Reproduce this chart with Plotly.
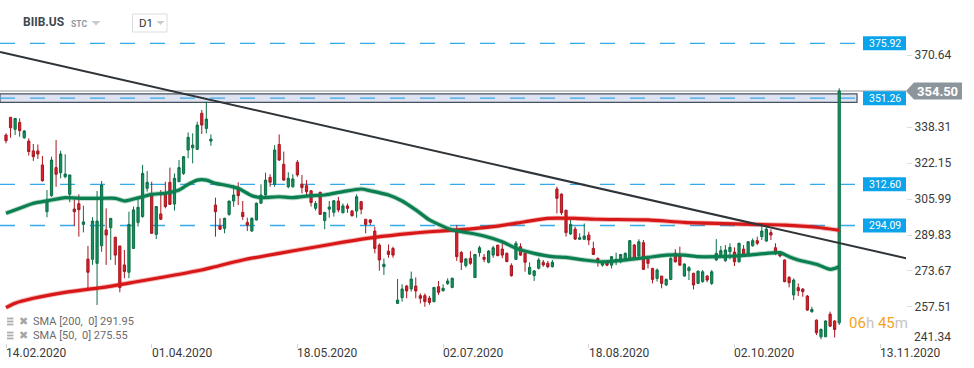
import plotly.graph_objects as go

# ---------------- data ----------------
opens = [334.7, 342.7, 337.3, 340.4, 333.5, 332.0, 327.6, 327.6, 321.3, 300.3,
         307.5, 320.1, 317.8, 316.0, 308.1, 301.5, 303.9, 294.6, 279.0, 278.9,
         277.1, 285.0, 292.1, 293.1, 288.8, 284.9, 276.4, 273.1, 283.8, 295.5,
         298.1, 310.8, 308.1, 290.1, 299.3, 308.8, 313.5, 303.7, 313.8, 317.5,
         328.0, 329.0, 328.3, 344.5, 337.7, 332.0, 303.3, 293.9, 292.8, 299.1,
         305.1, 310.5, 300.0, 295.5, 291.6, 296.6, 304.1, 307.8, 315.7, 312.6,
         330.5, 321.6, 311.5, 311.5, 322.5, 312.6, 312.0, 309.7, 301.8, 309.0,
         296.3, 301.4, 300.0, 305.1, 299.8, 302.9, 300.6, 300.6, 304.8, 296.9,
         296.6, 291.6, 285.3, 275.6, 282.6, 283.8, 259.1, 261.7, 266.9, 265.6,
         266.9, 262.6, 262.6, 261.5, 259.9, 266.6, 264.8, 268.0, 266.3, 292.1,
         282.0, 276.1, 279.4, 270.7, 281.9, 279.8, 277.6, 280.8, 285.3, 283.5,
         281.6, 276.1, 278.9, 284.6, 281.6, 272.3, 271.6, 274.9, 277.6, 277.1,
         275.6, 310.5, 308.2, 301.0, 290.3, 292.5, 287.9, 287.9, 289.8, 283.8,
         279.3, 276.3, 277.4, 276.3, 277.8, 277.8, 278.9, 279.3, 285.3, 280.4,
         286.4, 278.9, 274.8, 270.3, 271.4, 267.4, 269.9, 281.6, 280.4, 271.4,
         273.8, 272.6, 268.1, 268.9, 271.4, 268.1, 278.6, 280.1, 278.3, 282.3,
         282.2, 277.8, 283.5, 280.8, 285.0, 287.3, 289.1, 287.1, 290.9, 284.1,
         281.1, 278.6, 270.8, 262.9, 266.2, 265.6, 262.4, 255.4, 251.6, 244.1,
         244.1, 254.3, 251.2, 250.4]
highs = [335.5, 342.7, 342.2, 342.2, 337.0, 333.2, 330.7, 330.5, 325.3, 310.0,
         325.0, 332.5, 327.7, 326.1, 316.8, 305.8, 308.1, 303.0, 284.9, 297.8,
         309.6, 314.1, 301.8, 297.3, 289.1, 284.9, 283.1, 300.3, 302.6, 306.3,
         321.3, 318.6, 313.8, 302.8, 310.0, 313.8, 320.1, 317.5, 323.5, 325.3,
         335.9, 335.5, 340.7, 346.0, 349.7, 335.0, 306.6, 297.3, 297.6, 305.1,
         312.3, 313.5, 305.1, 297.6, 297.8, 304.4, 312.6, 317.8, 317.1, 330.2,
         335.0, 327.3, 318.0, 317.1, 323.5, 316.8, 314.5, 310.0, 305.1, 309.3,
         300.0, 305.1, 305.5, 307.0, 304.0, 304.0, 301.1, 308.1, 305.1, 296.9,
         297.0, 293.6, 286.1, 279.3, 285.6, 284.6, 270.1, 267.7, 267.4, 273.4,
         270.8, 263.6, 263.6, 262.5, 266.3, 269.2, 267.7, 270.4, 270.7, 294.3,
         282.6, 279.4, 282.6, 281.1, 285.0, 281.3, 283.1, 285.0, 285.3, 286.8,
         282.0, 277.1, 287.1, 286.1, 282.0, 277.6, 274.1, 279.6, 278.6, 278.2,
         278.6, 311.5, 308.5, 301.0, 296.5, 293.6, 290.6, 295.0, 291.3, 286.8,
         279.8, 278.3, 278.0, 280.4, 281.9, 281.3, 282.0, 287.6, 285.8, 287.9,
         287.6, 279.8, 275.1, 274.8, 271.4, 270.3, 280.1, 283.4, 284.6, 277.1,
         275.9, 272.9, 273.8, 274.1, 271.8, 274.1, 288.0, 284.9, 285.3, 286.1,
         284.3, 286.4, 285.3, 287.1, 288.3, 289.1, 293.6, 293.6, 292.4, 286.1,
         282.3, 278.9, 271.4, 270.3, 268.1, 265.9, 262.9, 257.6, 251.9, 247.9,
         251.6, 255.4, 251.6, 355.7]
lows = [331.0, 333.5, 334.7, 334.0, 333.0, 325.5, 323.1, 324.0, 313.8, 297.8,
        307.0, 311.5, 315.3, 315.3, 304.5, 293.9, 289.1, 291.0, 264.8, 276.4,
        258.4, 282.3, 276.4, 278.6, 276.4, 264.1, 270.4, 270.4, 283.8, 293.6,
        297.6, 309.3, 290.3, 288.0, 296.6, 301.8, 303.3, 300.8, 313.5, 316.8,
        324.3, 322.0, 328.0, 335.2, 335.5, 329.9, 289.1, 292.1, 290.6, 298.5,
        302.5, 303.3, 296.6, 291.6, 291.3, 296.3, 303.8, 307.5, 311.5, 311.5,
        323.1, 314.1, 310.8, 311.1, 316.0, 308.5, 307.8, 302.6, 300.8, 298.8,
        292.4, 297.6, 298.1, 300.0, 299.6, 299.8, 298.1, 297.6, 299.1, 290.6,
        294.3, 281.6, 273.8, 271.9, 279.6, 279.6, 258.8, 259.9, 261.4, 264.4,
        261.4, 259.1, 257.6, 258.5, 259.6, 262.9, 264.4, 267.4, 265.9, 278.2,
        274.1, 275.2, 276.4, 270.7, 280.1, 277.6, 277.1, 279.6, 280.4, 279.4,
        277.6, 271.1, 278.6, 280.4, 273.4, 271.9, 269.2, 274.4, 275.6, 274.9,
        275.2, 299.5, 298.8, 289.1, 289.8, 287.6, 287.6, 287.6, 285.3, 280.8,
        275.6, 275.6, 275.8, 274.8, 276.3, 277.1, 278.5, 278.9, 278.9, 279.8,
        274.1, 274.8, 268.1, 268.9, 265.9, 266.9, 269.6, 277.4, 275.9, 271.1,
        269.6, 265.4, 267.8, 268.4, 268.6, 267.4, 278.3, 279.8, 277.8, 278.9,
        275.9, 277.4, 280.1, 280.4, 284.6, 285.3, 287.6, 286.8, 287.6, 280.8,
        279.8, 268.6, 266.3, 260.6, 262.4, 262.1, 255.8, 254.9, 244.9, 243.0,
        244.1, 248.6, 243.8, 249.4]
closes = [332.2, 338.0, 342.2, 336.7, 336.5, 327.3, 325.0, 326.2, 314.2, 305.5,
          323.5, 317.1, 326.2, 317.2, 316.8, 300.3, 301.2, 295.7, 273.1, 296.1,
          296.1, 312.3, 289.8, 297.3, 280.8, 266.2, 273.4, 294.6, 301.1, 302.3,
          317.5, 313.5, 290.6, 302.6, 296.9, 302.6, 303.6, 315.3, 320.1, 325.0,
          333.7, 330.2, 339.2, 339.2, 341.9, 332.9, 300.3, 292.4, 297.3, 305.1,
          307.8, 307.5, 298.1, 294.3, 297.3, 304.1, 307.8, 314.5, 313.5, 328.0,
          323.5, 314.5, 315.3, 315.0, 316.8, 311.1, 309.3, 304.4, 304.0, 299.1,
          300.0, 302.4, 305.2, 301.1, 302.9, 301.8, 298.5, 307.0, 301.4, 294.6,
          295.5, 283.8, 278.6, 276.7, 281.1, 280.8, 260.6, 265.6, 264.7, 270.1,
          264.7, 261.4, 259.9, 259.5, 266.3, 264.1, 265.9, 269.2, 270.4, 280.1,
          277.6, 279.1, 277.1, 281.1, 284.1, 278.9, 282.6, 284.1, 280.5, 280.8,
          277.9, 271.6, 286.1, 280.8, 277.6, 275.3, 273.7, 278.6, 276.4, 275.6,
          277.6, 306.3, 299.8, 290.9, 294.6, 288.0, 288.6, 289.4, 287.6, 281.1,
          278.6, 277.8, 276.3, 280.1, 278.9, 281.1, 281.6, 287.3, 279.3, 286.8,
          274.4, 277.1, 269.9, 274.1, 268.1, 269.9, 279.3, 277.8, 276.3, 276.8,
          275.1, 267.4, 273.6, 273.3, 269.6, 273.3, 281.6, 282.8, 283.1, 284.3,
          277.8, 286.1, 280.8, 286.8, 287.3, 286.1, 291.6, 292.5, 289.8, 281.9,
          280.4, 268.9, 268.4, 269.6, 264.8, 264.4, 256.1, 256.4, 245.9, 247.4,
          251.2, 248.9, 247.4, 354.5]

sma50_idx = [0, 3, 6, 8, 12, 13, 17, 21, 24, 26, 28, 30, 32, 35, 38, 40, 42, 44, 46, 48,
             51, 54, 56, 60, 63, 67, 70, 74, 78, 80, 84, 87, 90, 93, 95, 98, 101, 105, 109, 112,
             116, 120, 123, 127, 131, 134, 138, 141, 145, 149, 152, 156, 160, 163, 167, 170, 172,
             174, 178, 181, 182, 183]
sma50_val = [299.6, 301.8, 304.1, 304.8, 306.3, 306.6, 306.3, 306.3, 306.3, 305.1,
             306.0, 307.0, 308.1, 308.6, 310.0, 312.6, 314.5, 314.5, 313.0, 312.3,
             310.8, 307.5, 306.6, 307.0, 306.6, 307.5, 307.8, 309.3, 310.5, 309.7,
             307.8, 305.1, 301.1, 296.6, 294.6, 292.1, 291.0, 289.4, 286.8, 283.9,
             281.6, 280.1, 279.8, 278.6, 277.8, 278.2, 279.1, 279.8, 280.8, 280.8,
             280.1, 280.1, 280.4, 280.8, 281.6, 281.9, 280.1, 278.6, 276.7, 274.4,
             274.8, 275.55]
sma200_idx = [0, 2, 6, 13, 21, 28, 35, 43, 46, 52, 60, 67, 74, 81, 89, 93, 99, 107, 114, 119,
              125, 130, 141, 149, 160, 171, 178, 183]
sma200_val = [257.2, 259.2, 261.4, 264.1, 266.2, 268.6, 271.1, 274.1, 275.6, 278.6,
              281.6, 284.1, 286.6, 288.8, 290.6, 291.3, 292.1, 293.6, 295.8, 297.3,
              297.3, 296.9, 296.6, 295.5, 294.8, 294.3, 293.3, 291.95]

tick_idx = [0, 32, 64, 96, 128, 160, 192]
tick_labels = ["14.02.2020", "01.04.2020", "18.05.2020", "02.07.2020",
               "18.08.2020", "02.10.2020", "13.11.2020"]
y_ticks = [370.64, 354.50, 338.31, 322.15, 305.99, 289.83, 273.67, 257.51, 241.34]
levels = [375.92, 351.26, 312.60, 294.09]
zone = [349.4, 353.2]
last_price = 354.50
trend_x = [-1.3, 197.7]
trend_y = [372.0, 279.4]
sma200_last = 291.95
sma50_last = 275.55

# ---------------- layout helpers ----------------
PW, PH = 906.0, 343.0
def px(x):
    return x / PW
def py(y):
    return 1 - y / PH

FONT = "Roboto, 'Open Sans', sans-serif"
GREEN = "#15915f"
RED = "#d9222d"

fig = go.Figure()
fig.add_trace(go.Candlestick(
    x=list(range(len(opens))), open=opens, high=highs, low=lows, close=closes,
    increasing=dict(line=dict(color="#0c6e45", width=1), fillcolor=GREEN),
    decreasing=dict(line=dict(color="#a8161f", width=1), fillcolor=RED),
    whiskerwidth=0, hoverinfo="skip", showlegend=False))

# SMA lines (soft halo + core)
for idx, val, col, halo in [(sma200_idx, sma200_val, "#d81818", "rgba(216,24,24,0.3)"),
                            (sma50_idx, sma50_val, "#0b7f50", "rgba(11,127,80,0.3)")]:
    fig.add_trace(go.Scatter(x=idx, y=val, mode="lines", line=dict(color=halo, width=5, shape="spline", smoothing=0.6),
                             hoverinfo="skip", showlegend=False))
    fig.add_trace(go.Scatter(x=idx, y=val, mode="lines", line=dict(color=col, width=3.2, shape="spline", smoothing=0.6),
                             hoverinfo="skip", showlegend=False))

fig.add_trace(go.Scatter(x=trend_x, y=trend_y, mode="lines",
                         line=dict(color="#2f3439", width=2), hoverinfo="skip", showlegend=False))

shapes = []
annos = []

# zone around 351.26
shapes.append(dict(type="rect", xref="paper", yref="y", x0=0, x1=px(857), y0=zone[0], y1=zone[1],
                   fillcolor="#dfe2f0", line=dict(color="#44505c", width=1.2), layer="below"))
# current price line
shapes.append(dict(type="line", xref="paper", yref="y", x0=0, x1=1.0, y0=last_price, y1=last_price,
                   line=dict(color="#8f979c", width=1.2), layer="below"))
# dashed levels + blue labels
for lv in levels:
    shapes.append(dict(type="line", xref="paper", yref="y", x0=0, x1=px(857), y0=lv, y1=lv,
                       line=dict(color="#36a9e8", width=1.3, dash="15px,15px"), layer="below"))
    shapes.append(dict(type="rect", xref="paper", yref="y", x0=px(863), x1=1.0,
                       ysizemode="pixel", yanchor=lv, y0=-7, y1=7,
                       fillcolor="#0ba4ea", line=dict(width=0)))
    annos.append(dict(xref="paper", yref="y", x=px(884.5), y=lv, text=f"{lv:.2f}", showarrow=False,
                      xanchor="center", yanchor="middle", font=dict(family=FONT, size=10.5, color="white")))

# price tag 354.50
yt = (395.37 - last_price) / 0.4491
tag = (f"M {px(906)} {py(yt)} L {px(914)} {py(yt-8.5)} L {px(962)} {py(yt-8.5)} "
       f"L {px(962)} {py(yt+8.5)} L {px(914)} {py(yt+8.5)} Z")
shapes.append(dict(type="path", xref="paper", yref="paper", path=tag, fillcolor="#8c959b", line=dict(width=0)))
annos.append(dict(xref="paper", yref="y", x=px(937), y=last_price, text=f"<b>{last_price:.2f}</b>",
                  showarrow=False, xanchor="center", yanchor="middle",
                  font=dict(family=FONT, size=13, color="white")))

# bottom y label
annos.append(dict(xref="paper", yref="y", x=1.0, y=y_ticks[-1], text=f"{y_ticks[-1]:.2f}", showarrow=False,
                  xanchor="left", yanchor="middle", xshift=6, yshift=6,
                  font=dict(family=FONT, size=12, color="#3a3a3a")))

# x labels (left aligned at tick)
for ti, tl in zip(tick_idx, tick_labels):
    annos.append(dict(xref="x", yref="paper", x=ti, y=0, text=tl, showarrow=False,
                      xanchor="left", yanchor="top", xshift=-2, yshift=-1,
                      font=dict(family=FONT, size=12, color="#3a3a3a")))

# header
annos.append(dict(xref="paper", yref="paper", x=px(21), y=py(22.5), text="<b>BIIB.US</b>", showarrow=False,
                  xanchor="left", yanchor="middle", font=dict(family=FONT, size=12, color="#3d4852")))
annos.append(dict(xref="paper", yref="paper", x=px(69), y=py(24), text="<b>STC</b>", showarrow=False,
                  xanchor="left", yanchor="middle", font=dict(family=FONT, size=8.5, color="#8c99a6")))
shapes.append(dict(type="path", xref="paper", yref="paper",
                   path=f"M {px(91.5)} {py(21)} L {px(100.5)} {py(21)} L {px(96)} {py(25.5)} Z",
                   fillcolor="#c8cdd2", line=dict(width=0)))
shapes.append(dict(type="rect", xref="paper", yref="paper", x0=px(132.5), x1=px(167), y0=py(14), y1=py(32),
                   fillcolor="white", line=dict(color="#d9dde1", width=1)))
annos.append(dict(xref="paper", yref="paper", x=px(137), y=py(23), text="D1", showarrow=False,
                  xanchor="left", yanchor="middle", font=dict(family=FONT, size=11.5, color="#333")))
shapes.append(dict(type="path", xref="paper", yref="paper",
                   path=f"M {px(156.5)} {py(21)} L {px(164.5)} {py(21)} L {px(160.5)} {py(25)} Z",
                   fillcolor="#c8cdd2", line=dict(width=0)))

# SMA legend (bottom left)
for yy, txt in [(321.5, f"SMA [200,\u00a0 0] {sma200_last:.2f}"), (335.5, f"SMA [50,\u00a0 0] {sma50_last:.2f}")]:
    for dy in (-3, 0, 3):
        shapes.append(dict(type="line", xref="paper", yref="paper", x0=px(7), x1=px(13.5),
                           y0=py(yy + dy), y1=py(yy + dy), line=dict(color="#aeaeae", width=1.8)))
    annos.append(dict(xref="paper", yref="paper", x=px(23.5), y=py(yy), text="\u2716", showarrow=False,
                      xanchor="center", yanchor="middle", font=dict(family="DejaVu Sans", size=11, color="#a6a6a6")))
    annos.append(dict(xref="paper", yref="paper", x=px(31), y=py(yy), text=txt, showarrow=False,
                      xanchor="left", yanchor="middle", font=dict(family=FONT, size=11, color="#6b6b6b")))

# countdown
annos.append(dict(xref="paper", yref="paper", x=px(847), y=py(322.5),
                  text="<span style='color:#f5a21e'>06</span><span style='color:#c4c4c4'>h</span> "
                       "<span style='color:#f5a21e'>45</span><span style='color:#c4c4c4'>m</span>",
                  showarrow=False, xanchor="left", yanchor="middle", font=dict(family=FONT, size=15)))

fig.update_layout(
    width=974, height=368,
    margin=dict(l=0, r=68, t=0, b=25),
    paper_bgcolor="white", plot_bgcolor="white",
    showlegend=False,
    shapes=shapes, annotations=annos,
    xaxis=dict(range=[-1.318, 197.67], showgrid=False, zeroline=False, showline=False,
               tickvals=tick_idx, ticks="outside", ticklen=4, tickcolor="#d5d5d5",
               showticklabels=False, rangeslider=dict(visible=False), fixedrange=True),
    yaxis=dict(side="right", range=[241.33, 395.37], showgrid=False, zeroline=False, showline=False,
               tickvals=y_ticks[:-1], ticktext=[("" if v == last_price else f"{v:.2f}") for v in y_ticks[:-1]],
               ticks="outside", ticklen=5, tickcolor="#dcdcdc", automargin=False,
               tickfont=dict(family=FONT, size=12, color="#3a3a3a"), fixedrange=True),
)

fig.write_html("out.html", config={"displayModeBar": False},
               post_script="document.body.style.margin='0';document.body.style.overflow='hidden';")
